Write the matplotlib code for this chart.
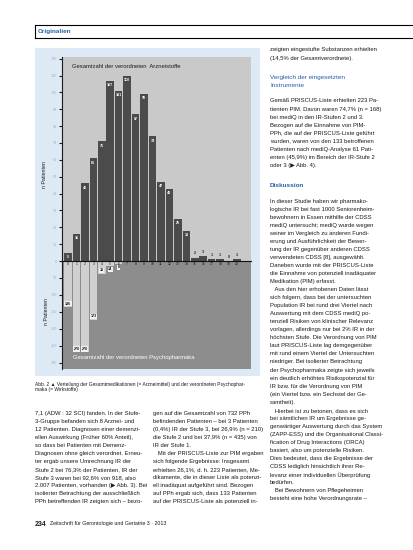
import matplotlib.pyplot as plt
from matplotlib.patches import Rectangle
from matplotlib.lines import Line2D

# number of prescribed substances per patient (0..20)
categories = ['0', '1', '2', '3', '4', '5', '6', '7', '8', '9', '10',
              '11', '12', '13', '14', '15', '16', '17', '18', '19', '20']
# patients by total number of prescribed drugs
n_drugs = [5, 16, 46, 61, 71, 107, 101, 110, 87, 99, 74,
           47, 43, 25, 18, 2, 3, 1, 1, 0, 1]
# patients by number of prescribed psychotropic drugs
psy_cats = ['0', '1', '2', '3', '4', '5', '6']
n_psy = [136, 270, 270, 173, 38, 14, 8]

upper_ticks = [0, 10, 20, 30, 40, 50, 60, 70, 80, 90, 100, 110, 120]
lower_ticks = [50, 100, 150, 200, 250, 300]

W, H = 413, 550
BLUE = '#2461a8'
FONT = ['Liberation Sans', 'DejaVu Sans']

def fx(x):
    return x / W

def fy(y):
    return 1 - y / H

fig = plt.figure(figsize=(W / 100, H / 100), dpi=100)
fig.patch.set_facecolor('white')

# header box
for (x0, y0, x1, y1) in [(35, 25, 413, 25), (35, 37.7, 413, 37.7), (35, 25, 35, 37.7)]:
    fig.add_artist(Line2D([fx(x0), fx(x1)], [fy(y0), fy(y1)], color='black', lw=0.8))
fig.text(fx(38), fy(31.5), 'Originalien', color=BLUE, fontsize=4.6, fontweight='bold',
         family=FONT, va='center')

# light blue figure panel
fig.add_artist(Rectangle((fx(35), fy(376)), fx(260) - fx(35), (376 - 48) / H,
                         transform=fig.transFigure, facecolor='#dde9f5', edgecolor='none', zorder=0))

# upper axes: all drugs
ax1 = fig.add_axes([fx(61.7), fy(261), (250.7 - 61.7) / W, (261 - 57) / H])
ax1.set_facecolor('#c9c9c9')
x = list(range(len(categories)))
ax1.bar(x, n_drugs, width=0.89, color='#4b4b4b', zorder=2)
ax1.set_xlim(-0.745, 21.62)
ax1.set_ylim(0, 121)
ax1.set_xticks([])
ax1.set_yticks(upper_ticks)
ax1.set_yticklabels([str(t) for t in upper_ticks])
for i, v in enumerate(n_drugs):
    if v >= 5:
        ax1.text(i, v - 2.6, str(v), color='white', fontsize=2.6, fontweight='bold',
                 ha='center', va='center', family=FONT, zorder=3)
    else:
        ax1.text(i, v + 2.6, str(v), color='#222222', fontsize=2.6, fontweight='bold',
                 ha='center', va='center', family=FONT, zorder=3)
ax1.text(0.054, 0.951, 'Gesamtzahl der verordneten  Arzneistoffe', transform=ax1.transAxes,
         fontsize=4.2, color='#1a1a1a', va='center', family=FONT)

# lower axes: psychotropic drugs
ax2 = fig.add_axes([fx(61.7), fy(369), (250.7 - 61.7) / W, (369 - 261) / H])
ax2.set_facecolor('#8d8d8d')
ax2.bar(range(len(psy_cats)), n_psy, width=0.89, color='#d0d0d0', zorder=2)
ax2.set_xlim(-0.745, 21.62)
ax2.set_ylim(319, 0)
ax2.set_xticks([])
ax2.set_yticks(lower_ticks)
ax2.set_yticklabels([str(t) for t in lower_ticks])
for i, v in enumerate(n_psy):
    yl = v - 10 if v > 30 else v + 10
    ax2.text(i, yl, str(v), color='#111111', fontsize=2.6, fontweight='bold', ha='center',
             va='center', family=FONT, zorder=3,
             bbox=dict(boxstyle='square,pad=0.15', facecolor='#f2f2f2', edgecolor='none'))
for i, c in enumerate(categories):
    ax2.text(i, 8, c, color='#111111', fontsize=2.4, ha='center', va='center',
             family=FONT, zorder=4)
ax2.text(0.058, 0.102, 'Gesamtzahl der verordneten Psychopharmaka', transform=ax2.transAxes,
         fontsize=4.2, color='white', va='center', family=FONT)

for ax in (ax1, ax2):
    for s in ('top', 'right', 'bottom'):
        ax.spines[s].set_visible(False)
    ax.spines['left'].set_color('#1a1a1a')
    ax.spines['left'].set_linewidth(0.8)
    ax.tick_params(axis='y', length=2.5, width=0.8, color='#1a1a1a', pad=1,
                   labelsize=2.4, labelcolor='#9fb0c2')
ax2.spines['top'].set_visible(True)
ax2.spines['top'].set_color('#111111')
ax2.spines['top'].set_linewidth(0.8)

fig.text(fx(45), fy(175), 'n Patienten', rotation=90, fontsize=3.8, color='#1a1a1a',
         ha='center', va='center', family=FONT)
fig.text(fx(46), fy(312), 'n Patienten', rotation=90, fontsize=3.8, color='#1a1a1a',
         ha='center', va='center', family=FONT)

# caption
fig.text(fx(35), fy(384.5), 'Abb. 2 \u25b2 Verteilung der Gesamtmedikationen (= Arzneimittel) und der verordneten Psychophar-',
         fontsize=3.5, color='#1a1a1a', va='center', family=FONT)
fig.text(fx(35), fy(390), 'maka (= Wirkstoffe)', fontsize=3.5, color='#1a1a1a', va='center', family=FONT)

# body text
right_a = ['zeigten eingestufte Substanzen erhielten',
           '(14,5% der Gesamtverordnete).']
right_h = ['Vergleich der eingesetzten', 'Instrumente']
right_c = ['Gemäß PRISCUS-Liste erhielten 223 Pa-',
           'tienten PIM. Davon waren 74,7% (n = 168)',
           'bei mediQ in den IR-Stufen 2 und 3.',
           'Bezogen auf die Einnahme von PIM-',
           'PPh, die auf der PRISCUS-Liste geführt',
           'wurden, waren von den 133 betroffenen',
           'Patienten nach mediQ-Analyse 61 Pati-',
           'enten (45,9%) im Bereich der IR-Stufe 2',
           'oder 3 (\u25b6 Abb. 4).']
right_e = ['In dieser Studie haben wir pharmako-',
           'logische IR bei fast 1000 Seniorenheim-',
           'bewohnern in Essen mithilfe der CDSS',
           'mediQ untersucht; mediQ wurde wegen',
           'seiner im Vergleich zu anderen Fundi-',
           'erung und Ausführlichkeit der Bewer-',
           'tung der IR gegenüber anderen CDSS',
           'verwendeten CDSS [8], ausgewählt.',
           'Daneben wurde mit der PRISCUS-Liste',
           'die Einnahme von potenziell inadäquater',
           'Medikation (PIM) erfasst.',
           '   Aus den hier erhobenen Daten lässt',
           'sich folgern, dass bei der untersuchten',
           'Population IR bei rund drei Viertel nach',
           'Auswertung mit dem CDSS mediQ po-',
           'tenziell Risiken von klinischer Relevanz',
           'vorlagen, allerdings nur bei 2% IR in der',
           'höchsten Stufe. Die Verordnung von PIM',
           'laut PRISCUS-Liste lag demgegenüber',
           'mit rund einem Viertel der Untersuchten',
           'niedriger. Bei isolierter Betrachtung',
           'der Psychopharmaka zeigte sich jeweils',
           'ein deutlich erhöhtes Risikopotenzial für',
           'IR bzw. für die Verordnung von PIM',
           '(ein Viertel bzw. ein Sechstel der Ge-',
           'samtheit).',
           '   Hierbei ist zu betonen, dass es sich',
           'bei sämtlichen IR um Ergebnisse ge-',
           'genwärtiger Auswertung durch das System',
           '(ZAPP-ESS) und die Organisational Classi-',
           'fication of Drug Interactions (ORCA)',
           'basiert, also um potenzielle Risiken.',
           'Dies bedeutet, dass die Ergebnisse der',
           'CDSS lediglich hinsichtlich ihrer Re-',
           'levanz einer individuellen Überprüfung',
           'bedürfen.',
           '   Bei Bewohnern von Pflegeheimen',
           'besteht eine hohe Verordnungsrate –']
left_b = ['7,1 (ADW : 32 SCI) fanden. In der Stufe-',
          '3-Gruppe befanden sich 8 Arznei- und',
          '12 Patienten. Diagnosen einer demenzi-',
          'ellen Auswirkung (Früher 60% Anteil),',
          'so dass bei Patienten mit Demenz-',
          'Diagnosen ohne gleich verordnet. Erneu-',
          'ter ergab unsere Umrechnung IR der',
          'Stufe 2 bei 76,3% der Patienten, IR der',
          'Stufe 3 waren bei 92,6% von 918, also',
          '2.007 Patienten, vorhanden (\u25b6 Abb. 3). Bei',
          'isolierter Betrachtung der ausschließlich',
          'PPh betreffenden IR zeigten sich – bezo-']
mid_b = ['gen auf die Gesamtzahl von 732 PPh',
         'befindenden Patienten – bei 3 Patienten',
         '(0,4%) IR der Stufe 3, bei 26,9% (n = 210)',
         'die Stufe 2 und bei 37,9% (n = 435) von',
         'IR der Stufe 1.',
         '   Mit der PRISCUS-Liste zur PIM ergaben',
         'sich folgende Ergebnisse: Insgesamt',
         'erhielten 26,1%, d. h. 223 Patienten, Me-',
         'dikamente, die in dieser Liste als potenzi-',
         'ell inadäquat aufgeführt sind. Bezogen',
         'auf PPh ergab sich, dass 133 Patienten',
         'auf der PRISCUS-Liste als potenziell in-']

def block(lines, x0, y0, pitch=8.05, **kw):
    opts = dict(fontsize=4.2, color='#1a1a1a', family=FONT, va='center')
    opts.update(kw)
    for k, line in enumerate(lines):
        fig.text(fx(x0), fy(y0 + k * pitch), line, **opts)

block(right_a, 270, 50)
block(right_h, 270, 77.3, color=BLUE, fontsize=4.6)
block(right_c, 270, 101)
block(['Diskussion'], 270, 185.3, color=BLUE, fontsize=4.6, fontweight='bold')
block(right_e, 270, 201)
block(left_b, 35, 413)
block(mid_b, 153, 413)

# footer
fig.text(fx(35), fy(524), '234', fontsize=5, fontweight='bold', color='#1a1a1a', va='center', family=FONT)
fig.text(fx(50), fy(524), 'Zeitschrift für Gerontologie und Geriatrie 3 · 2013', fontsize=3.8,
         color='#1a1a1a', va='center', family=FONT)

fig.savefig('out.png', dpi=100)
